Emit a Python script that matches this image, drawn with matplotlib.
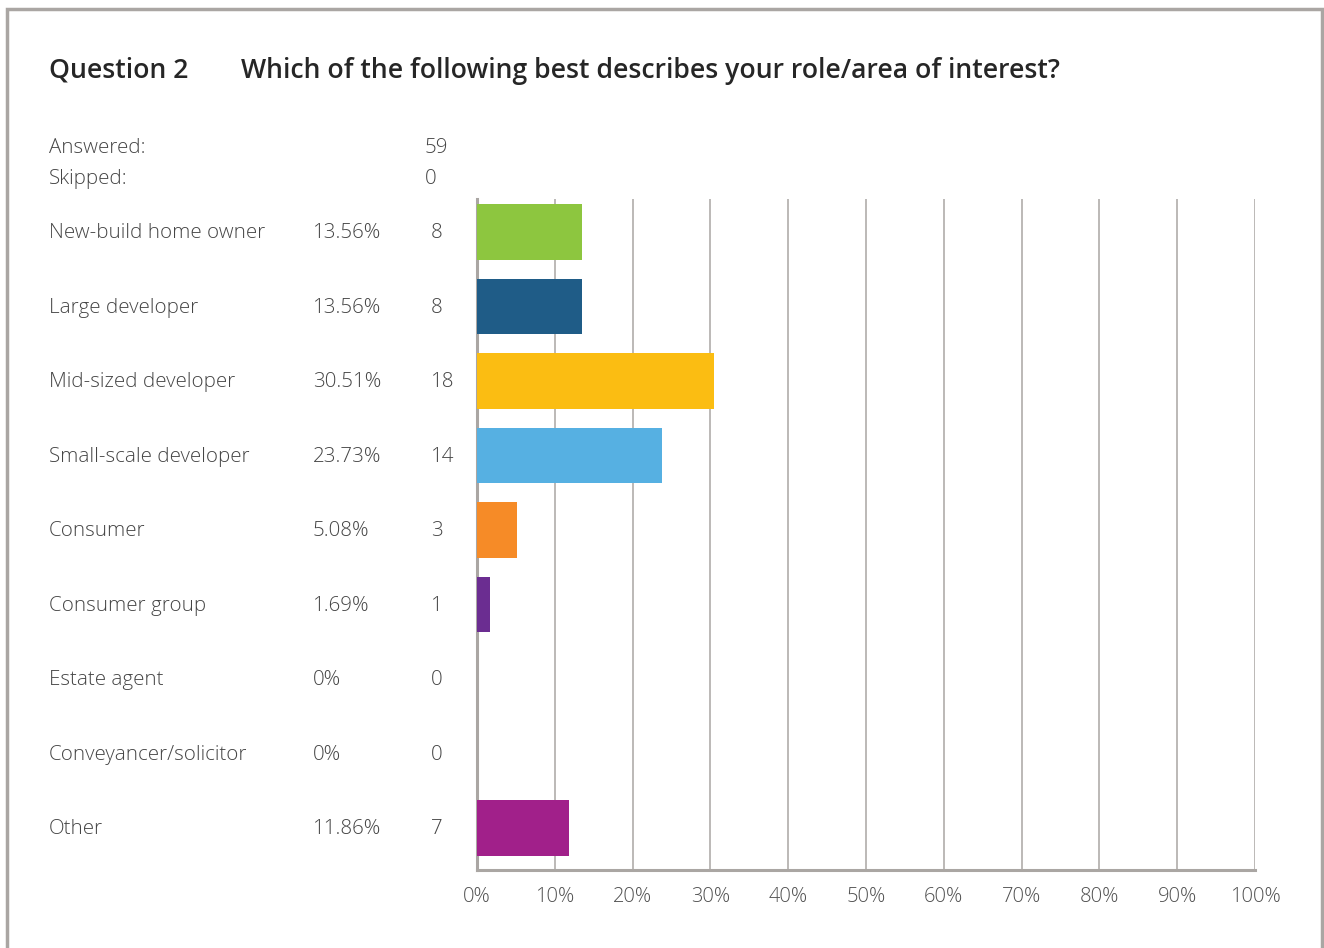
import matplotlib
matplotlib.use("Agg")
import matplotlib.pyplot as plt
from matplotlib.patches import Rectangle
from matplotlib.transforms import blended_transform_factory

W, H = 1324, 948

categories = ["New-build home owner", "Large developer", "Mid-sized developer",
              "Small-scale developer", "Consumer", "Consumer group",
              "Estate agent", "Conveyancer/solicitor", "Other"]
percents = [13.56, 13.56, 30.51, 23.73, 5.08, 1.69, 0, 0, 11.86]
pct_labels = ["13.56%", "13.56%", "30.51%", "23.73%", "5.08%", "1.69%", "0%", "0%", "11.86%"]
counts = [8, 8, 18, 14, 3, 1, 0, 0, 7]
colors = ["#8dc63f", "#1f5c87", "#fbbd12", "#56b0e2", "#f68b27",
          "#6b2d91", "#6b2d91", "#6b2d91", "#a1208a"]
answered, skipped = 59, 0
xticks = list(range(0, 101, 10))

plt.rcParams['font.family'] = ['Open Sans', 'DejaVu Sans']

fig = plt.figure(figsize=(W / 100, H / 100), dpi=100)
fig.patch.set_facecolor("white")

def px(x, y):
    return x / W, 1 - y / H

# outer frame (bottom edge runs off the page)
fig.patches.append(Rectangle(px(7, 990), (1322 - 7) / W, (990 - 9) / H,
                             transform=fig.transFigure, fill=False,
                             edgecolor="#aaa6a3", linewidth=2.5))

ax = fig.add_axes([477 / W, (H - 870) / H, (1255 - 477) / W, (870 - 199) / H])
n = len(categories)
ypos = list(range(n))
ax.barh(ypos, percents, height=0.74, color=colors, zorder=3)
ax.set_xlim(0, 100)
ax.set_ylim(n - 1 + 0.564, -0.443)
ax.set_xticks(xticks)
ax.set_xticklabels([f"{t}%" for t in xticks])
ax.set_yticks([])
ax.tick_params(axis="x", length=0, pad=12, labelsize=14.5, colors="#505050")
for lbl in ax.get_xticklabels():
    lbl.set_fontweight("light")
ax.grid(axis="x", color="#aaa6a3", linewidth=1.1, zorder=0)
for s in ["top", "right"]:
    ax.spines[s].set_visible(False)
ax.spines["left"].set_color("#aaa6a3")
ax.spines["left"].set_linewidth(2.2)
ax.spines["bottom"].set_color("#aaa6a3")
ax.spines["bottom"].set_linewidth(2.2)
ax.set_facecolor("none")

# text columns
tc = "#454545"
fs = 14.8
row_tr = blended_transform_factory(fig.transFigure, ax.transData)
for i, (c, p, k) in enumerate(zip(categories, pct_labels, counts)):
    ax.text(49 / W, i + 0.02, c, transform=row_tr, ha="left", va="center",
            fontsize=fs, color=tc, fontweight="light")
    ax.text(313 / W, i + 0.02, p, transform=row_tr, ha="left", va="center",
            fontsize=fs, color=tc, fontweight="light")
    ax.text(431 / W, i + 0.02, str(k), transform=row_tr, ha="left", va="center",
            fontsize=fs, color=tc, fontweight="light")

fig.text(*px(49, 148), "Answered:", ha="left", va="center", fontsize=fs, color=tc, fontweight="light")
fig.text(*px(49, 179), "Skipped:", ha="left", va="center", fontsize=fs, color=tc, fontweight="light")
fig.text(*px(425, 148), str(answered), ha="left", va="center", fontsize=fs, color=tc, fontweight="light")
fig.text(*px(425, 179), str(skipped), ha="left", va="center", fontsize=fs, color=tc, fontweight="light")

fig.text(*px(49, 71), "Question 2", ha="left", va="center", fontsize=19.2,
         color="#262626", fontweight="semibold")
fig.text(*px(241, 71), "Which of the following best describes your role/area of interest?",
         ha="left", va="center", fontsize=19.2, color="#262626", fontweight="semibold")

fig.savefig("out.png", dpi=100)
